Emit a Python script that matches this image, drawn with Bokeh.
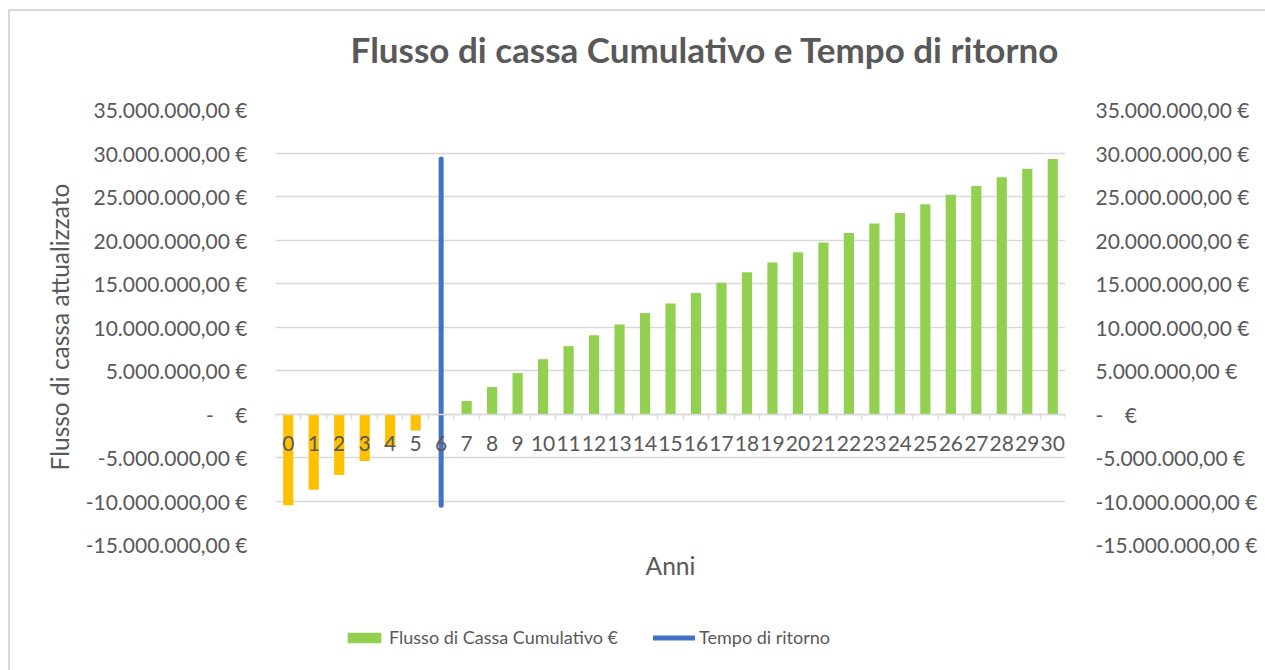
from bokeh.plotting import figure
from bokeh.models import (ColumnDataSource, LinearAxis, FixedTicker, Range1d,
                          Legend, LegendItem, Label)
from bokeh.layouts import column
from bokeh.embed import file_html
from bokeh.resources import INLINE

# ---------------- data ----------------
anni = [0, 1, 2, 3, 4, 5, 6, 7, 8, 9, 10, 11, 12, 13, 14, 15, 16, 17, 18, 19,
        20, 21, 22, 23, 24, 25, 26, 27, 28, 29, 30]
flusso_cumulativo = [-10.5e6, -8.7e6, -7.0e6, -5.4e6, -3.7e6, -1.9e6, -0.15e6,
                     1.5e6, 3.1e6, 4.7e6, 6.3e6, 7.8e6, 9.05e6, 10.3e6, 11.6e6,
                     12.7e6, 13.9e6, 15.1e6, 16.3e6, 17.4e6, 18.6e6, 19.7e6,
                     20.8e6, 21.9e6, 23.1e6, 24.1e6, 25.2e6, 26.2e6, 27.2e6,
                     28.2e6, 29.3e6]
tempo_ritorno_x = [6, 6]
tempo_ritorno_y = [-10.5e6, 29.3e6]
y_ticks = [-15e6, -10e6, -5e6, 0, 5e6, 10e6, 15e6, 20e6, 25e6, 30e6, 35e6]
y_tick_labels = ["-15.000.000,00 €", "-10.000.000,00 €", "-5.000.000,00 €",
                 "-\u00a0\u00a0\u00a0\u00a0€", "5.000.000,00 €", "10.000.000,00 €",
                 "15.000.000,00 €", "20.000.000,00 €", "25.000.000,00 €",
                 "30.000.000,00 €", "35.000.000,00 €"]
x_tick_labels = [str(a) for a in anni]
titolo = "Flusso di cassa Cumulativo e Tempo di ritorno"
label_y = "Flusso di cassa attualizzato"
label_x = "Anni"
legenda = ["Flusso di Cassa Cumulativo €", "Tempo di ritorno"]

TXT = "#595959"
FONT = "Lato"
BORDER = "#D9D9D9"
GREEN = "#92D050"
ORANGE = "#FFC000"
BLUE = "#4472C4"
W = 1265
LEFT_LINE = f"linear-gradient({BORDER},{BORDER}) 8px 0px / 2px 100% no-repeat"
TOP_LINE = f"linear-gradient({BORDER},{BORDER}) 8px 9px / 100% 2px no-repeat"


def blank(fig):
    fig.outline_line_color = None
    fig.background_fill_alpha = 0
    fig.border_fill_alpha = 0
    fig.grid.visible = False


# ---------------- title strip ----------------
top_h = 90
p_top = figure(width=W, height=top_h, output_backend="svg", toolbar_location=None,
               x_range=Range1d(0, W), y_range=Range1d(top_h, 0),
               x_axis_location=None, y_axis_location=None,
               min_border=0, frame_align=False)
blank(p_top)
p_top.styles = {"background": (f"linear-gradient({BORDER},{BORDER}) 8px 9px / 2px 100% no-repeat, "
                               f"{TOP_LINE}, white")}
p_top.add_layout(Label(x=704.5, y=48, text=titolo, text_font=FONT,
                       text_font_size="35px", text_font_style="bold",
                       text_color=TXT, text_align="center",
                       text_baseline="alphabetic"))

# ---------------- main chart ----------------
pos = ColumnDataSource(dict(
    x=[a for a, v in zip(anni, flusso_cumulativo) if v >= 0],
    top=[v for v in flusso_cumulativo if v >= 0]))
neg = ColumnDataSource(dict(
    x=[a for a, v in zip(anni, flusso_cumulativo) if v < 0],
    top=[v for v in flusso_cumulativo if v < 0]))

p = figure(width=W, height=510, output_backend="svg", toolbar_location=None,
           x_range=Range1d(anni[0] - 0.5, anni[-1] + 0.5),
           y_range=Range1d(y_ticks[0], y_ticks[-1]),
           x_axis_location=None, y_axis_location=None,
           min_border_left=275, min_border_right=200,
           min_border_top=19, min_border_bottom=56, frame_align=False)
p.outline_line_color = None
p.background_fill_color = "white"
p.border_fill_alpha = 0
p.styles = {"background": f"{LEFT_LINE}, white"}

p.xgrid.visible = False
p.ygrid.ticker = FixedTicker(ticks=y_ticks)
p.ygrid.grid_line_color = BORDER
p.ygrid.grid_line_width = 1.5

label_map = {t: l for t, l in zip(y_ticks, y_tick_labels)}
for side, standoff in (("left", 28), ("right", 30)):
    ax = LinearAxis(ticker=FixedTicker(ticks=y_ticks),
                    major_label_overrides=label_map)
    ax.axis_line_color = None
    ax.major_tick_line_color = None
    ax.minor_tick_line_color = None
    ax.major_tick_out = 0
    ax.major_tick_in = 0
    ax.major_label_standoff = standoff
    ax.major_label_text_font = FONT
    ax.major_label_text_font_size = "21px"
    ax.major_label_text_color = TXT
    if side == "left":
        ax.axis_label = label_y
        ax.axis_label_text_font = FONT
        ax.axis_label_text_font_size = "24.5px"
        ax.axis_label_text_font_style = "normal"
        ax.axis_label_text_color = TXT
        ax.axis_label_standoff = 9
    p.add_layout(ax, side)

# category axis crossing at zero
xax = LinearAxis(fixed_location=0,
                 ticker=FixedTicker(ticks=anni,
                                    minor_ticks=[a - 0.5 for a in anni] + [anni[-1] + 0.5]),
                 major_label_overrides={a: l for a, l in zip(anni, x_tick_labels)})
xax.axis_line_color = BORDER
xax.axis_line_width = 1.5
xax.major_tick_line_color = None
xax.major_tick_out = 0
xax.major_tick_in = 0
xax.minor_tick_line_color = BORDER
xax.minor_tick_line_width = 1.5
xax.minor_tick_out = 5
xax.minor_tick_in = 0
xax.major_label_standoff = 17
xax.major_label_text_font = FONT
xax.major_label_text_font_size = "21px"
xax.major_label_text_color = TXT
p.add_layout(xax, "below")

tax = LinearAxis(ticker=FixedTicker(ticks=[]), axis_label=label_x)
tax.axis_line_color = None
tax.major_tick_line_color = None
tax.minor_tick_line_color = None
tax.major_label_text_font_size = "0px"
tax.axis_label_text_font = FONT
tax.axis_label_text_font_size = "24.5px"
tax.axis_label_text_font_style = "normal"
tax.axis_label_text_color = TXT
tax.axis_label_standoff = 6
p.add_layout(tax, "below")

p.vbar(x="x", top="top", bottom=0, width=0.4, source=neg,
       fill_color=ORANGE, line_color=None)
p.vbar(x="x", top="top", bottom=0, width=0.4, source=pos,
       fill_color=GREEN, line_color=None)
p.line(tempo_ritorno_x, tempo_ritorno_y, line_color=BLUE,
       line_width=5, line_cap="round")

# ---------------- legend strip ----------------
# the legend strip shows the same series; its ranges keep the marks off-frame
leg_h = 670 - top_h - 510
p_leg = figure(width=W, height=leg_h, output_backend="svg", toolbar_location=None,
               x_range=Range1d(0, 1), y_range=Range1d(0, 1),
               x_axis_location=None, y_axis_location=None, min_border=0,
               frame_align=False)
blank(p_leg)
p_leg.styles = {"background": f"{LEFT_LINE}, white"}
lg_bar = p_leg.vbar(x="x", top="top", bottom=0, width=0.4, source=pos,
                    fill_color=GREEN, line_color=None)
lg_line = p_leg.line(tempo_ritorno_x, tempo_ritorno_y, line_color=BLUE,
                     line_width=5, line_cap="round")

legend = Legend(items=[LegendItem(label=legenda[0], renderers=[lg_bar]),
                       LegendItem(label=legenda[1], renderers=[lg_line])],
                orientation="horizontal", location=(343, 22))
legend.background_fill_alpha = 0
legend.border_line_color = None
legend.padding = 0
legend.margin = 0
legend.spacing = 35
legend.glyph_width = 42
legend.glyph_height = 13
legend.label_standoff = 4
legend.label_text_font = FONT
legend.label_text_font_size = "18px"
legend.label_text_color = TXT
p_leg.add_layout(legend, "center")

layout = column(p_top, p, p_leg, spacing=0)
open("out.html", "w").write(file_html(layout, INLINE))
